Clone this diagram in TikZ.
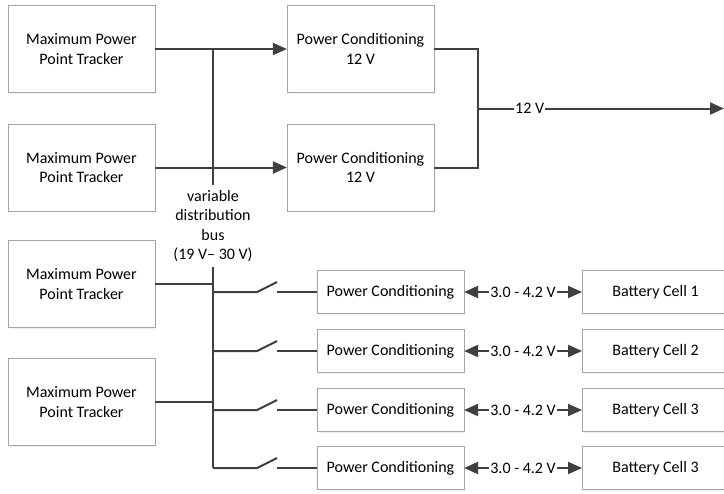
\documentclass[tikz,border=0pt]{standalone}
\usepackage{fontspec}
\setmainfont{Carlito}
\usetikzlibrary{arrows.meta, positioning, shadows}
\definecolor{wiregray}{RGB}{64,64,64}
\definecolor{boxgray}{RGB}{165,165,165}

\begin{document}
\begin{tikzpicture}[x=0.75pt, y=-0.75pt,
    blk/.style={draw=boxgray, fill=white, align=center, inner sep=0pt,
        font=\fontsize{12}{14.8}\selectfont,
        drop shadow={shadow xshift=1pt, shadow yshift=-1pt, fill=black!12}},
    bigblk/.style={blk, minimum width=110pt, minimum height=65pt},
    smallblk/.style={blk, minimum width=110pt, minimum height=32pt},
    wire/.style={draw=wiregray, line width=1.5pt},
    tip/.style={-{Triangle[length=10.5pt, width=9pt]}},
    dtip/.style={{Triangle[length=10.5pt, width=9pt]}-{Triangle[length=10.5pt, width=9pt]}},
    lbl/.style={fill=white, inner sep=1pt, font=\fontsize{12}{14.8}\selectfont},
]
    \useasboundingbox (0,0) rectangle (724,493);

    % ---- upper branch: MPPT -> 12 V ----
    \node[bigblk] (mppt1) at (81.5,49) {Maximum Power\\Point Tracker};
    \node[bigblk] (mppt2) at (81.5,167.5) {Maximum Power\\Point Tracker};
    \node[bigblk] (pcA) at (360.5,49) {Power Conditioning\\12 V};
    \node[bigblk] (pcB) at (360.5,167.5) {Power Conditioning\\12 V};

    \coordinate (busTop) at (213,49);
    \coordinate (busEnd) at (213,185);
    \draw[wire, tip] (mppt1) -- (pcA);
    \draw[wire, tip] (mppt2) -- (pcB);
    \draw[wire] (busTop) -- (busEnd);
    \node[align=center, font=\fontsize{12}{14.6}\selectfont] (busText) at (213,226)
        {variable\\distribution\\bus\\(19 V-- 30 V)};

    % ---- 12 V output ----
    \coordinate (joint) at (478,108.5);
    \coordinate (outR) at (724,108.5);
    \draw[wire] (pcA.east) -| (joint) |- (pcB.east);
    \draw[wire, tip] (joint) -- node[lbl, pos=0.21] {12 V} (outR);

    % ---- lower branch: MPPT -> battery cells ----
    \node[bigblk] (mppt3) at (81.5,284) {Maximum Power\\Point Tracker};
    \node[bigblk] (mppt4) at (81.5,402) {Maximum Power\\Point Tracker};
    \coordinate (busLow) at (213,267);
    \coordinate (busBot) at (213,468);
    \draw[wire] (busLow) -- (busBot);
    \draw[wire] (mppt3.east) -- (mppt3.east -| busLow);
    \draw[wire] (mppt4.east) -- (mppt4.east -| busLow);

    \foreach \i/\yy/\cell in {1/292/1, 2/351/2, 3/410/3, 4/468/3} {
        \node[smallblk] (pc\i) at (390.5,\yy) {Power Conditioning};
        \node[smallblk, anchor=west] (cell\i) at (582,\yy) {Battery Cell \cell};
        \coordinate (tap\i) at (213,\yy);
        \coordinate (swA\i) at (257,\yy);
        \coordinate (swB\i) at (277,\yy-10);
        \coordinate (swC\i) at (277,\yy);
        \draw[wire] (tap\i) -- (swA\i) -- (swB\i);
        \draw[wire] (swC\i) -- (pc\i.west);
        \draw[wire, dtip] (pc\i) -- node[lbl] {3.0 - 4.2 V} (cell\i);
    }
\end{tikzpicture}
\end{document}
